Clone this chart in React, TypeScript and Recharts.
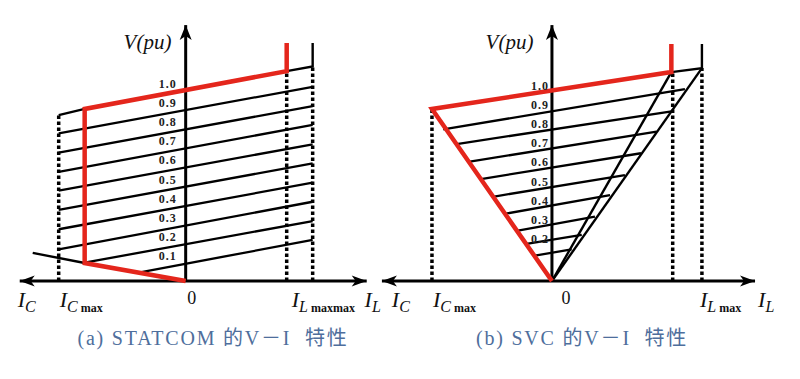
import React from 'react';
import { ComposedChart, Line, Scatter, XAxis, YAxis } from 'recharts';

// all values in pu (current I on x, voltage V on y)

// (a) STATCOM
const statcomAxisEnds = [-0.869, 0.948];
const statcomAxisTop = 1.34;
const statcomRed = [[0, 0], [-0.529, 0.094], [-0.529, 0.901], [0.529, 1.099], [0.529, 1.246]];
const statcomBlackPaths = [
  [[0.529, 1.099], [0.665, 1.123], [0.665, 1.246]],
  [[-0.665, 0.869], [-0.529, 0.901]],
  [[-0.801, 0.147], [-0.529, 0.094]],
];
// [I1, V1, I2, V2]
const statcomLines = [
  [-0.665, 0.773, 0.665, 1.017],
  [-0.665, 0.672, 0.665, 0.916],
  [-0.665, 0.572, 0.665, 0.817],
  [-0.665, 0.473, 0.665, 0.716],
  [-0.665, 0.372, 0.665, 0.616],
  [-0.665, 0.271, 0.665, 0.515],
  [-0.665, 0.166, 0.665, 0.415],
  [-0.529, 0.096, 0.665, 0.314],
  [-0.232, 0.047, 0.665, 0.215],
];
// [I, top V]
const statcomDotted = [[-0.665, 0.869], [0.529, 1.099], [0.665, 1.123]];
const statcomLevels = [1.0, 0.9, 0.8, 0.7, 0.6, 0.5, 0.4, 0.3, 0.2, 0.1];
const statcomTickI = [-0.88, -0.66, 0.008, 0.555, 0.937];
const statcomTickText = [['I', 'C', ''], ['I', 'C', 'max'], ['0'], ['I', 'L', 'maxmax'], ['I', 'L', '']];

// (b) SVC
const svcAxisEnds = [-0.89, 1.063];
const svcAxisTop = 1.34;
const svcRed = [[0, 0], [-0.628, 0.901], [0.625, 1.094], [0.625, 1.241]];
const svcBlackPaths = [
  [[0.625, 1.094], [0.785, 1.115], [0.785, 1.241]],
  [[0, 0], [0.625, 1.094]],
  [[0, 0], [0.785, 1.115]],
];
const svcLines = [
  [-0.569, 0.794, 0.696, 1.005],
  [-0.499, 0.717, 0.635, 0.89],
  [-0.438, 0.624, 0.548, 0.782],
  [-0.372, 0.534, 0.466, 0.669],
  [-0.31, 0.441, 0.382, 0.555],
  [-0.25, 0.351, 0.304, 0.45],
  [-0.185, 0.262, 0.225, 0.337],
  [-0.133, 0.194, 0.156, 0.241],
  [-0.089, 0.133, 0.103, 0.166],
];
const svcDotted = [[-0.628, 0.901], [0.632, 1.089], [0.785, 1.115]];
const svcLevels = [1.0, 0.9, 0.8, 0.7, 0.6, 0.5, 0.4, 0.3, 0.2];
const svcTickI = [-0.838, -0.623, 0.05, 0.775, 1.079];
const svcTickText = [['I', 'C', ''], ['I', 'C', 'max'], ['0'], ['I', 'L', 'max'], ['I', 'L', '']];

const RED = '#e4261c';
const SERIF = '"Liberation Serif", "DejaVu Serif", serif';

const toPts = (pts: number[][]) => pts.map(([I, V]) => ({ I, V }));

const ArrowDot = (props: any) => {
  const { cx, cy, payload, index } = props;
  const dir = payload && payload.arrow;
  if (!dir) return <g key={index} />;
  let pts = '';
  if (dir === 'right') pts = `${cx},${cy} ${cx - 15},${cy - 5.5} ${cx - 11},${cy} ${cx - 15},${cy + 5.5}`;
  if (dir === 'left') pts = `${cx},${cy} ${cx + 15},${cy - 5.5} ${cx + 11},${cy} ${cx + 15},${cy + 5.5}`;
  if (dir === 'up') pts = `${cx},${cy} ${cx - 6},${cy + 15} ${cx},${cy + 11} ${cx + 6},${cy + 15}`;
  return <polygon key={index} points={pts} fill="#000" />;
};

interface PanelProps {
  width: number;
  marginLeft: number;
  domainI: number[];
  axisEnds: number[];
  axisTop: number;
  red: number[][];
  blackPaths: number[][][];
  lines: number[][];
  dotted: number[][];
  levels: number[];
  levelI: number;
  levelDy: number;
  vpuI: number;
  tickI: number[];
  tickText: string[][];
}

const Panel: React.FC<PanelProps> = (p) => {
  const CurrentTick = (props: any) => {
    const { x, y, payload } = props;
    const idx = p.tickI.indexOf(payload.value);
    const t = p.tickText[idx] || [];
    const base = y + 18;
    if (t[0] === '0') {
      return (
        <text x={x} y={base - 3} fontFamily={SERIF} fontSize={18} fill="#111">0</text>
      );
    }
    return (
      <text x={x} y={base} fontFamily={SERIF} fontSize={22} fontStyle="italic" fill="#111">
        {t[0]}
        <tspan fontSize={16} dy={5}>{t[1]}</tspan>
        {t[2] ? <tspan fontStyle="normal" fontWeight="bold" fontSize={12} dx={3}>{t[2]}</tspan> : null}
      </text>
    );
  };

  const levelData = p.levels.map((v) => ({ I: p.levelI, V: v, t: v.toFixed(1) }));
  const vpuData = [{ I: p.vpuI, V: 1.251 }];

  return (
    <ComposedChart width={p.width} height={379} margin={{ top: 19, right: 10, bottom: 58, left: p.marginLeft }}>
      <XAxis
        type="number"
        dataKey="I"
        domain={p.domainI}
        ticks={p.tickI}
        interval={0}
        axisLine={false}
        tickLine={false}
        height={40}
        tick={CurrentTick}
      />
      <YAxis type="number" dataKey="V" domain={[0, 1.372]} hide />
      <Scatter
        data={levelData}
        dataKey="V"
        isAnimationActive={false}
        shape={(s: any) => (
          <text x={s.cx} y={s.cy + p.levelDy} textAnchor="middle" dominantBaseline="central"
            fontFamily={SERIF} fontWeight="bold" fontSize={12} letterSpacing={1} fill="#222">
            {s.payload.t}
          </text>
        )}
      />
      <Scatter
        data={vpuData}
        dataKey="V"
        isAnimationActive={false}
        shape={(s: any) => (
          <text x={s.cx} y={s.cy} textAnchor="middle" dominantBaseline="central"
            fontFamily={SERIF} fontStyle="italic" fontSize={21} fill="#111">
            V(pu)
          </text>
        )}
      />
      {p.dotted.map(([I, V], i) => (
        <Line key={`d${i}`} data={toPts([[I, 0], [I, V]])} dataKey="V" stroke="#000" strokeWidth={3.5}
          strokeDasharray="3.5 2.5" dot={false} activeDot={false} isAnimationActive={false} />
      ))}
      {p.lines.map((s, i) => (
        <Line key={`l${i}`} data={toPts([[s[0], s[1]], [s[2], s[3]]])} dataKey="V" stroke="#000" strokeWidth={2.3}
          dot={false} activeDot={false} isAnimationActive={false} />
      ))}
      {p.blackPaths.map((path, i) => (
        <Line key={`b${i}`} data={toPts(path)} dataKey="V" stroke="#000" strokeWidth={2.4}
          dot={false} activeDot={false} isAnimationActive={false} />
      ))}
      <Line data={[{ I: p.axisEnds[0], V: 0, arrow: 'left' }, { I: p.axisEnds[1], V: 0, arrow: 'right' }]}
        dataKey="V" stroke="#000" strokeWidth={3} dot={ArrowDot} activeDot={false} isAnimationActive={false} />
      <Line data={[{ I: 0, V: 0 }, { I: 0, V: p.axisTop, arrow: 'up' }]}
        dataKey="V" stroke="#000" strokeWidth={3} dot={ArrowDot} activeDot={false} isAnimationActive={false} />
      <Line data={toPts(p.red)} dataKey="V" stroke={RED} strokeWidth={4.5} strokeLinejoin="miter"
        dot={false} activeDot={false} isAnimationActive={false} />
    </ComposedChart>
  );
};

const captionStyle: React.CSSProperties = {
  position: 'absolute',
  top: 325,
  width: 340,
  textAlign: 'center',
  fontFamily: '"Liberation Serif", "Noto Sans CJK SC", serif',
  fontSize: 20,
  lineHeight: '26px',
  letterSpacing: 1.8,
  color: '#4e6e9c',
  whiteSpace: 'pre',
};

export default function App() {
  return (
    <div style={{ position: 'absolute', left: 0, top: 0, width: 800, height: 379, background: '#fff', overflow: 'hidden' }}>
      <div style={{ position: 'absolute', left: 0, top: 0 }}>
        <Panel
          width={400}
          marginLeft={10}
          domainI={[-0.92, 1.07]}
          axisEnds={statcomAxisEnds}
          axisTop={statcomAxisTop}
          red={statcomRed}
          blackPaths={statcomBlackPaths}
          lines={statcomLines}
          dotted={statcomDotted}
          levels={statcomLevels}
          levelI={-0.094}
          levelDy={-6}
          vpuI={-0.2}
          tickI={statcomTickI}
          tickText={statcomTickText}
        />
      </div>
      <div style={{ position: 'absolute', left: 375, top: 0 }}>
        <Panel
          width={425}
          marginLeft={5}
          domainI={[-0.9, 1.246]}
          axisEnds={svcAxisEnds}
          axisTop={svcAxisTop}
          red={svcRed}
          blackPaths={svcBlackPaths}
          lines={svcLines}
          dotted={svcDotted}
          levels={svcLevels}
          levelI={-0.063}
          levelDy={-4}
          vpuI={-0.222}
          tickI={svcTickI}
          tickText={svcTickText}
        />
      </div>
      <div style={{ ...captionStyle, left: 213 - 170 }}>(a) STATCOM 的V－I  特性</div>
      <div style={{ ...captionStyle, left: 582 - 170 }}>(b) SVC 的V－I  特性</div>
    </div>
  );
}
